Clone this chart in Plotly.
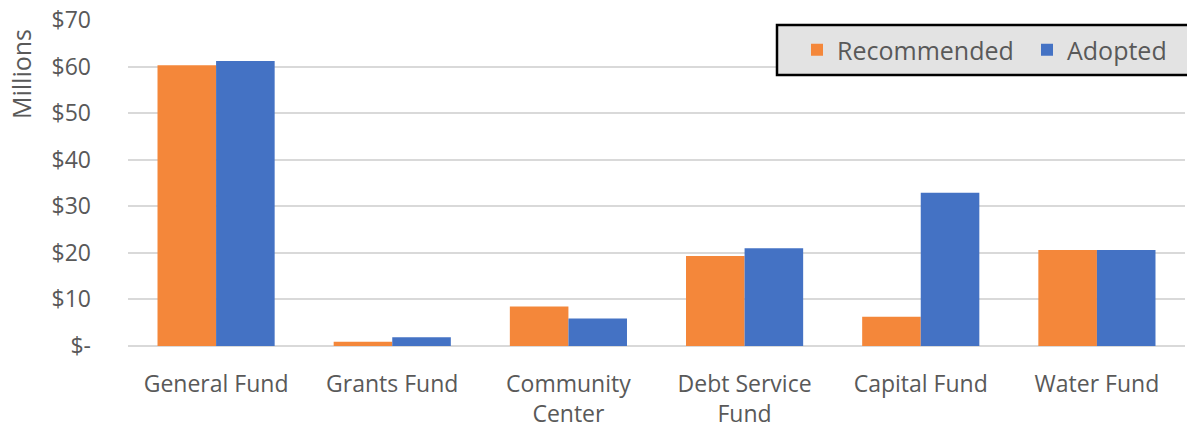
import plotly.graph_objects as go

# Fund budgets, in millions of dollars
categories = ["General Fund", "Grants Fund", "Community<br>Center",
              "Debt Service<br>Fund", "Capital Fund", "Water Fund"]
recommended = [60.3, 0.9, 8.5, 19.3, 6.3, 20.6]
adopted = [61.2, 1.9, 5.9, 21.0, 32.9, 20.6]
tick_vals = [0, 10, 20, 30, 40, 50, 60, 70]
tick_text = ["$-", "$10", "$20", "$30", "$40", "$50", "$60", "$70"]
unit_label = "Millions"

W, H = 1187, 432
ML, MR, MT, MB = 128, 2, 20, 86

font_family = "Open Sans, Noto Sans, sans-serif"
text_color = "#595959"

fig = go.Figure()
fig.add_trace(go.Bar(name="Recommended", x=categories, y=recommended,
                     marker=dict(color="#F4873A", line=dict(width=0))))
fig.add_trace(go.Bar(name="Adopted", x=categories, y=adopted,
                     marker=dict(color="#4472C4", line=dict(width=0))))

plot_w = W - ML - MR
plot_h = H - MT - MB


def px_x(px):
    return (px - ML) / plot_w


def px_y(py):
    return 1 - (py - MT) / plot_h


# Framed grey box behind the legend entries
fig.add_shape(type="rect", xref="paper", yref="paper",
              x0=px_x(777), x1=px_x(1200), y0=px_y(75), y1=px_y(25),
              fillcolor="#E3E3E3", line=dict(color="black", width=2.5),
              layer="above")

# Unit label, set high on the value axis
fig.add_annotation(text=unit_label, xref="paper", yref="paper",
                   x=px_x(21), y=px_y(74), xanchor="center", yanchor="middle",
                   textangle=-90, showarrow=False,
                   font=dict(size=25, color=text_color))

fig.update_layout(
    width=W, height=H,
    margin=dict(l=ML, r=MR, t=MT, b=MB, pad=0, autoexpand=False),
    paper_bgcolor="white", plot_bgcolor="white",
    barmode="group", bargap=0.335, bargroupgap=0,
    font=dict(family=font_family, size=23, color=text_color),
    xaxis=dict(showgrid=False, showline=False, ticks="",
               ticklabelstandoff=22,
               tickfont=dict(size=23, color=text_color)),
    yaxis=dict(range=[0, 70], tickvals=tick_vals, ticktext=tick_text,
               showgrid=True, gridcolor="#D9D9D9", gridwidth=2,
               zeroline=True, zerolinecolor="#D9D9D9", zerolinewidth=2,
               ticks="", ticklabelstandoff=36,
               tickfont=dict(size=23, color=text_color)),
    legend=dict(orientation="h",
                x=px_x(797), xanchor="left",
                y=px_y(50), yanchor="middle",
                bgcolor="rgba(0,0,0,0)", borderwidth=0,
                font=dict(size=25, color=text_color),
                entrywidth=185, itemwidth=30, traceorder="normal"),
    showlegend=True,
)

fig.write_html("out.html")
